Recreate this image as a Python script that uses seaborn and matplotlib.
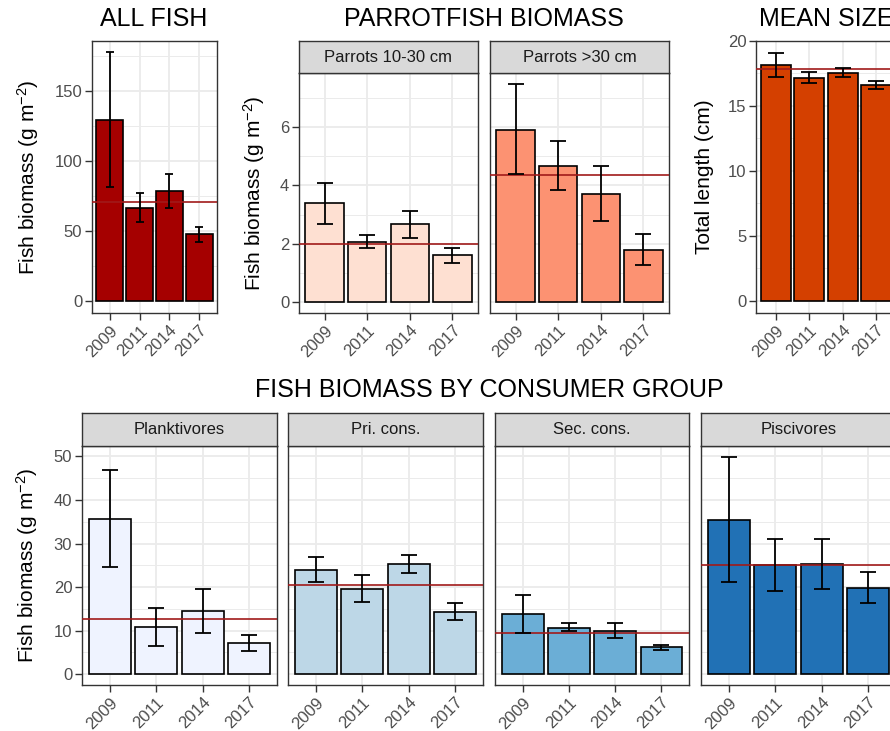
import matplotlib
matplotlib.use("Agg")
import matplotlib.pyplot as plt
import seaborn as sns
import numpy as np
import pandas as pd

# ---- data ----
years = ["2009", "2011", "2014", "2017"]

all_fish = [129.5, 66.6, 78.3, 47.5]
all_fish_lo = [81.5, 56.4, 66.6, 42.4]
all_fish_hi = [177.4, 76.8, 90.3, 52.8]
all_fish_mean = 70.6

parrot_groups = ["Parrots 10-30 cm", "Parrots >30 cm"]
parrot_small = [3.38, 2.07, 2.66, 1.60]
parrot_small_lo = [2.68, 1.85, 2.18, 1.33]
parrot_small_hi = [4.09, 2.29, 3.13, 1.86]
parrot_small_mean = 2.0
parrot_large = [5.89, 4.68, 3.72, 1.79]
parrot_large_lo = [4.38, 3.83, 2.77, 1.26]
parrot_large_hi = [7.47, 5.53, 4.68, 2.32]
parrot_large_mean = 4.34

mean_size = [18.14, 17.15, 17.56, 16.59]
mean_size_lo = [17.25, 16.74, 17.20, 16.34]
mean_size_hi = [19.07, 17.61, 17.94, 16.92]
mean_size_mean = 17.81

consumer_groups = ["Planktivores", "Pri. cons.", "Sec. cons.", "Piscivores"]
plank = [35.6, 10.8, 14.5, 7.2]
plank_lo = [24.6, 6.5, 9.4, 5.35]
plank_hi = [46.9, 15.2, 19.5, 8.9]
prim = [24.0, 19.6, 25.2, 14.3]
prim_lo = [21.1, 16.6, 23.3, 12.4]
prim_hi = [26.8, 22.7, 27.25, 16.3]
sec = [13.8, 10.7, 9.85, 6.2]
sec_lo = [9.5, 9.85, 8.2, 5.5]
sec_hi = [18.2, 11.7, 11.7, 6.8]
pisc = [35.4, 25.0, 25.3, 19.8]
pisc_lo = [21.1, 19.2, 19.5, 16.3]
pisc_hi = [49.9, 31.0, 31.0, 23.4]
consumer_means = [12.6, 20.5, 9.47, 25.1]

# ---- style ----
sns.set_theme(style="white")
plt.rcParams["font.family"] = ["Liberation Sans", "DejaVu Sans"]
plt.rcParams["mathtext.fontset"] = "custom"
plt.rcParams["mathtext.rm"] = "Liberation Sans"
plt.rcParams["mathtext.it"] = "Liberation Sans"

W, H = 890, 731
fig = plt.figure(figsize=(W / 100, H / 100), dpi=100)
fig.patch.set_facecolor("white")

BORDER = "#333333"
GRID = "#EBEBEB"
TICKC = "#4D4D4D"
LINE = "#A11A1A"


def px_axes(x0, y0, x1, y1):
    return fig.add_axes([x0 / W, 1 - y1 / H, (x1 - x0) / W, (y1 - y0) / H])


def strip(x0, y0, x1, y1, label):
    s = px_axes(x0, y0, x1, y1)
    s.set_facecolor("#D9D9D9")
    s.set_xticks([])
    s.set_yticks([])
    for sp in s.spines.values():
        sp.set_color(BORDER)
        sp.set_linewidth(1.0)
    s.text(0.5, 0.5, label, ha="center", va="center", fontsize=12,
           color="#1A1A1A", transform=s.transAxes)


def panel(ax, vals, lo, hi, mean, color, ylim, yticks, minor, cap,
          show_y=True, ylabel=None):
    df = pd.DataFrame({"year": years, "value": vals})
    sns.barplot(data=df, x="year", y="value", color=color, saturation=1,
                width=0.9, edgecolor="black", linewidth=1.2, errorbar=None,
                ax=ax, zorder=2)
    vals = np.array(vals)
    err = [vals - np.array(lo), np.array(hi) - vals]
    ax.axhline(mean, color=LINE, lw=1.2, zorder=3)
    ax.errorbar(np.arange(len(years)), vals, yerr=err, fmt="none",
                ecolor="black", elinewidth=1.3, capsize=cap, capthick=1.3,
                zorder=4)
    ax.set_xlim(-0.6, len(years) - 0.4)
    ax.set_ylim(*ylim)
    ax.set_yticks(yticks)
    ax.set_yticks(minor, minor=True)
    ax.set_facecolor("white")
    ax.set_axisbelow(True)
    ax.grid(True, which="major", color=GRID, lw=1.3)
    ax.grid(True, which="minor", axis="y", color=GRID, lw=0.7)
    for sp in ax.spines.values():
        sp.set_visible(True)
        sp.set_color(BORDER)
        sp.set_linewidth(1.0)
    ax.tick_params(axis="both", which="major", direction="out", length=5,
                   width=1.0, color=BORDER, labelsize=12, labelcolor=TICKC,
                   pad=2, left=show_y, bottom=True)
    ax.tick_params(axis="y", which="minor", length=0)
    ax.set_xlabel("")
    plt.setp(ax.get_xticklabels(), rotation=45, ha="right",
             rotation_mode="anchor")
    if not show_y:
        ax.set_yticklabels([])
    if ylabel:
        ax.set_ylabel(ylabel, fontsize=15, color="black", labelpad=9.5)
    else:
        ax.set_ylabel("")


bio_label = "Fish biomass (g m$^{-2}$)"

# ---- top row ----
ax = px_axes(92, 41, 217, 313)
panel(ax, all_fish, all_fish_lo, all_fish_hi, all_fish_mean, "#A50000",
      (-8.6, 185.6), [0, 50, 100, 150], [25, 75, 125, 175], 3.0,
      ylabel=bio_label)
fig.text(154 / W, 1 - 19 / H, "ALL FISH", ha="center", va="center",
         fontsize=18, color="black")

parrot_cols = ["#FEE0D2", "#FC9272"]
parrot_sets = [(parrot_small, parrot_small_lo, parrot_small_hi, parrot_small_mean),
               (parrot_large, parrot_large_lo, parrot_large_hi, parrot_large_mean)]
for i, (x0, x1) in enumerate([(299, 478), (490, 669)]):
    ax = px_axes(x0, 73, x1, 313)
    v, lo, hi, m = parrot_sets[i]
    panel(ax, v, lo, hi, m, parrot_cols[i], (-0.374, 7.85), [0, 2, 4, 6],
          [1, 3, 5, 7], 5.5, show_y=(i == 0),
          ylabel=bio_label if i == 0 else None)
    strip(x0, 41, x1, 73, parrot_groups[i])
fig.text(484 / W, 1 - 19 / H, "PARROTFISH BIOMASS", ha="center",
         va="center", fontsize=18, color="black")

ax = px_axes(756, 41, 896, 313)
panel(ax, mean_size, mean_size_lo, mean_size_hi, mean_size_mean, "#D44000",
      (-0.95, 20.0), [0, 5, 10, 15, 20], [2.5, 7.5, 12.5, 17.5], 5.5,
      ylabel="Total length (cm)")
fig.text(826 / W, 1 - 19 / H, "MEAN SIZE", ha="center", va="center",
         fontsize=18, color="black")

# ---- bottom row ----
blue_cols = ["#EFF3FF", "#BDD7E7", "#6BAED6", "#2171B5"]
cons_sets = [(plank, plank_lo, plank_hi), (prim, prim_lo, prim_hi),
             (sec, sec_lo, sec_hi), (pisc, pisc_lo, pisc_hi)]
for i, (x0, x1) in enumerate([(82, 277), (288, 483), (495, 689), (701, 896)]):
    ax = px_axes(x0, 446, x1, 685)
    v, lo, hi = cons_sets[i]
    panel(ax, v, lo, hi, consumer_means[i], blue_cols[i], (-2.5, 52.4),
          [0, 10, 20, 30, 40, 50], [5, 15, 25, 35, 45], 6.0,
          show_y=(i == 0), ylabel=bio_label if i == 0 else None)
    strip(x0, 413, x1, 446, consumer_groups[i])
fig.text(489 / W, 1 - 390 / H, "FISH BIOMASS BY CONSUMER GROUP",
         ha="center", va="center", fontsize=18, color="black")

fig.savefig("out.png", dpi=100, facecolor="white")
